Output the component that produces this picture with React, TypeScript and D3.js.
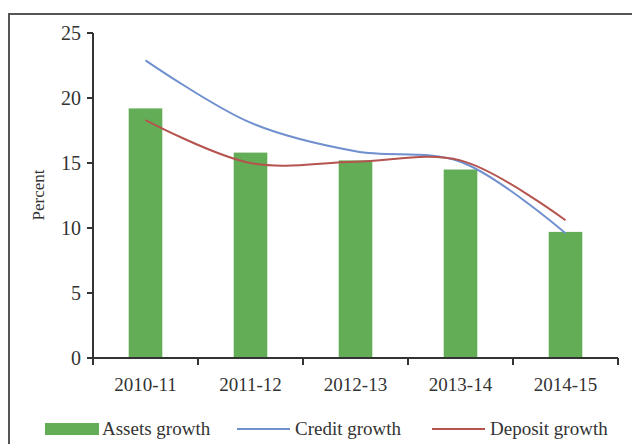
import React from "react";
import * as d3 from "d3";

const categories = ["2010-11", "2011-12", "2012-13", "2013-14", "2014-15"];
const assetsGrowth = [19.2, 15.8, 15.2, 14.5, 9.7];
const creditGrowth = [22.9, 18.1, 15.9, 15.1, 9.6];
const depositGrowth = [18.3, 15.0, 15.1, 15.2, 10.6];
const yTicks = [0, 5, 10, 15, 20, 25];

const W = 632;
const H = 444;
const left = 93;
const right = 618;
const top = 33;
const bottom = 358;
const font = "'Liberation Serif', 'DejaVu Serif', serif";
const textColor = "#333";

export default function App() {
  const x = d3.scaleBand<string>().domain(categories).range([left, right]).paddingInner(0.68).paddingOuter(0.34);
  const xc = (c: string) => (x(c) as number) + x.bandwidth() / 2;
  const band = d3.scaleBand<string>().domain(categories).range([left, right]);
  const y = d3.scaleLinear().domain([0, 25]).range([bottom, top]);

  const line = d3
    .line<number>()
    .x((_, i) => xc(categories[i]))
    .y((d) => y(d))
    .curve(d3.curveCatmullRom.alpha(0.5));

  return (
    <svg width={W} height={H} style={{ position: "absolute", left: 0, top: 0 }}>
      <rect x={0} y={0} width={W} height={H} fill="#fff" />
      <path d={`M9,${H} V14 H${W}`} fill="none" stroke="#555" strokeWidth={2} />
      {categories.map((c, i) => (
        <rect key={c} x={x(c)} y={y(assetsGrowth[i])} width={x.bandwidth()} height={bottom - y(assetsGrowth[i])} fill="#62ad55" />
      ))}
      <path d={line(creditGrowth) || ""} fill="none" stroke="#6f8fce" strokeWidth={2} />
      <path d={line(depositGrowth) || ""} fill="none" stroke="#b5534f" strokeWidth={2} />
      {/* y axis */}
      <line x1={left} x2={left} y1={top} y2={bottom} stroke="#333" strokeWidth={2} />
      {yTicks.map((t) => (
        <g key={t}>
          <line x1={left - 6} x2={left} y1={y(t)} y2={y(t)} stroke="#333" strokeWidth={2} />
          <text x={left - 12} y={y(t)} dy="0.35em" textAnchor="end" fontFamily={font} fontSize={20} fill={textColor}>
            {t}
          </text>
        </g>
      ))}
      {/* x axis */}
      <line x1={left} x2={right} y1={bottom} y2={bottom} stroke="#333" strokeWidth={2} />
      {[...categories.map((c) => band(c) as number), right].map((v, i) => (
        <line key={i} x1={v} x2={v} y1={bottom} y2={bottom + 7} stroke="#333" strokeWidth={2} />
      ))}
      {categories.map((c) => (
        <text key={c} x={xc(c)} y={391} textAnchor="middle" fontFamily={font} fontSize={19} fill={textColor}>
          {c}
        </text>
      ))}
      <text transform="translate(44,195) rotate(-90)" textAnchor="middle" fontFamily={font} fontSize={17} fill={textColor}>
        Percent
      </text>
      {/* legend */}
      <rect x={45} y={423} width={54} height={12} fill="#62ad55" />
      <text x={102} y={435} fontFamily={font} fontSize={19} fill={textColor}>Assets growth</text>
      <line x1={237} x2={290} y1={429} y2={429} stroke="#6f8fce" strokeWidth={2} />
      <text x={295} y={435} fontFamily={font} fontSize={19} fill={textColor}>Credit growth</text>
      <line x1={432} x2={485} y1={429} y2={429} stroke="#b5534f" strokeWidth={2} />
      <text x={490} y={435} fontFamily={font} fontSize={19} fill={textColor}>Deposit growth</text>
    </svg>
  );
}
